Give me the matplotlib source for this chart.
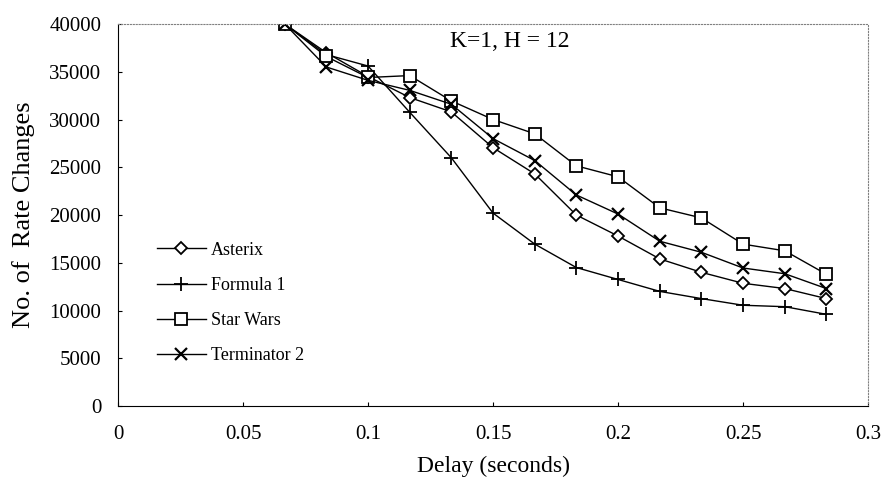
import matplotlib.pyplot as plt

plt.rcParams['font.family'] = 'Liberation Serif'

# delay values (seconds) = 4/60 ... 17/60
delay = [0.0667, 0.0833, 0.1, 0.1167, 0.1333, 0.15, 0.1667, 0.1833,
         0.2, 0.2167, 0.2333, 0.25, 0.2667, 0.2833]

asterix = [40000, 37000, 34500, 32300, 30800, 27050, 24300, 20000,
           17800, 15400, 14000, 12850, 12300, 11250]
formula1 = [40000, 36800, 35600, 30750, 26000, 20200, 16950, 14500,
            13250, 12000, 11250, 10550, 10400, 9600]
starwars = [40000, 36600, 34400, 34600, 31950, 30000, 28500, 25150,
            24000, 20750, 19700, 16950, 16250, 13800]
terminator2 = [40000, 35500, 34100, 33050, 31600, 28000, 25700, 22100,
               20100, 17250, 16100, 14450, 13850, 12300]

fig = plt.figure(figsize=(8.84, 4.87), dpi=100)
ax = fig.add_axes([0.1335, 0.1663, 0.8485, 0.7844])

ax.plot(delay, asterix, 'k-', marker='D', mfc='white', mec='black', ms=6, mew=1.3, lw=1, label='Asterix')
ax.plot(delay, formula1, 'k-', marker='+', ms=10, mew=1.3, lw=1, label='Formula 1')
ax.plot(delay, starwars, 'k-', marker='s', mfc='white', mec='black', ms=8, mew=1.3, lw=1, label='Star Wars')
ax.plot(delay, terminator2, 'k-', marker='x', ms=9, mew=1.6, lw=1, label='Terminator 2')

ax.set_xlim(0, 0.3)
ax.set_ylim(0, 40000)
ax.set_xticks([0, 0.05, 0.1, 0.15, 0.2, 0.25, 0.3])
ax.set_xticklabels(['0', '0.05', '0.1', '0.15', '0.2', '0.25', '0.3'])
ax.set_yticks(range(0, 40001, 5000))
ax.tick_params(axis='both', labelsize=15, direction='in', length=3)
ax.tick_params(axis='x', pad=14)
ax.tick_params(axis='y', pad=12)

for s in ['top', 'right']:
    ax.spines[s].set_linestyle(':')
    ax.spines[s].set_color('gray')

ax.set_xlabel('Delay (seconds)', fontsize=17, labelpad=8)
ax.set_ylabel('No. of  Rate Changes', fontsize=19, labelpad=10)
ax.text(0.1328, 38200, 'K=1, H = 12', fontsize=17, va='center')

ax.legend(loc='center left', bbox_to_anchor=(0.03, 0.27), frameon=False,
          fontsize=13, handlelength=2.7, labelspacing=1.0, handletextpad=0.3)

plt.savefig('out.png', dpi=100)
